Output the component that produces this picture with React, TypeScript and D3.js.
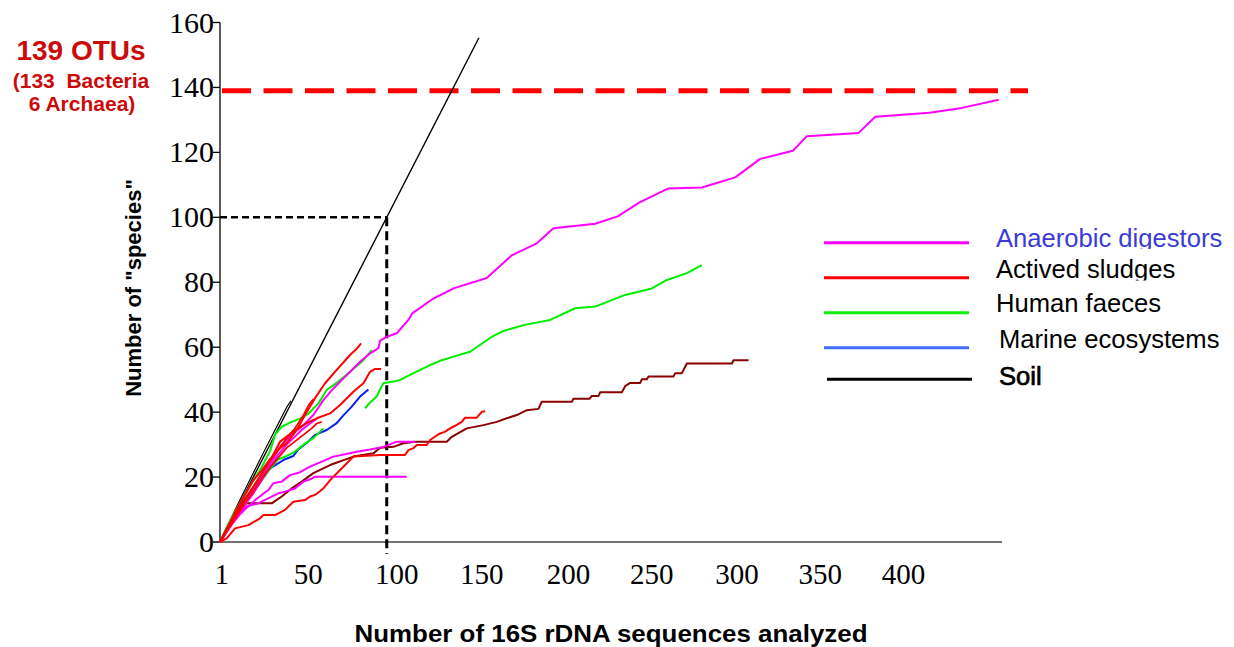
import React from "react";
import * as d3 from "d3";

type Pt = [number, number];

// ---- axis ticks ----
const yTicks = [0, 20, 40, 60, 80, 100, 120, 140, 160];
const xTickLabels = ["1", "50", "100", "150", "200", "250", "300", "350", "400"];
const xTickAt = [1, 53, 106, 157, 209, 259, 310, 360, 410];

// ---- total OTUs found ----
const totalOtus = 139;
const guideValue = 100;

// ---- Soil ----
const soilReference: Pt[] = [[0, 0], [155.3, 155.3]];
const soilSample: Pt[] = [[0, 0], [4, 4.5], [8, 8.8], [12, 13], [16, 17.2], [20, 21.3], [24, 25.4], [28, 29.5], [32, 33.5], [36, 37.5], [40, 41.5], [42.5, 43.5]];

// ---- dark red curve ----
const darkCurve: Pt[] = [[0, 0], [4, 4], [10, 9.9], [16, 11.9], [31, 11.9], [37, 14], [43, 16.5], [49, 18.6], [56, 21.2], [66, 23.7], [80, 26.3], [92, 27.3], [96, 29], [104, 29.3], [110, 30.4], [117, 30.9], [136, 30.9], [139, 32.4], [148, 35], [158, 36], [166, 37], [172, 38.1], [178, 39.1], [184, 40.6], [191, 41], [193, 43.2], [211, 43.2], [212, 44.1], [221.6, 44.1], [223, 45], [227, 45], [228, 46.1], [241, 46.1], [243, 48], [246, 49], [252, 49], [253, 50.1], [256, 50.1], [257, 51], [272, 51], [273, 52], [277, 52], [280, 55], [307, 55], [308, 56], [317, 56]];

// ---- Marine ecosystems ----
const marineA: Pt[] = [[0, 0], [7, 6], [13, 12], [19, 16], [25, 20], [31, 23], [39, 25.5], [44, 26.5], [47, 28.5], [52, 30.5], [57, 33], [64, 34.5], [70, 36.6], [74, 39], [79, 41.7], [84, 44.8], [89, 47]];

// ---- Human faeces ----
const faecesA: Pt[] = [[0, 0], [4, 4.5], [8, 8.5], [12, 12], [16, 15.5], [20, 19], [25, 23], [30, 28], [33, 33], [37, 35.5], [43, 37], [48, 38], [53, 39.5], [59, 42.7], [64, 46.8], [71, 49.4], [78, 52.4], [86, 56], [91, 59.1]];
const faecesB: Pt[] = [[0, 0], [5, 4.5], [10, 8.5], [15, 12], [20, 15.5], [25, 19], [30, 22.5], [35, 25.5], [40, 26.5], [44, 27.5], [51, 30.3], [56, 32], [60, 34], [62, 35]];
const faecesC: Pt[] = [[87, 41.2], [90, 43], [94, 44.8], [96, 47], [98, 48.9], [104, 49.4], [108, 49.9], [116, 52], [126, 54.5], [133, 56], [140, 57.1], [150, 58.6], [163, 63.2], [170, 65], [182, 66.8], [198, 68.4], [213, 72], [225, 72.5], [243, 76.1], [259, 78.1], [268, 80.7], [280, 82.8], [289, 85.3]];

// ---- Anaerobic digestors ----
const digestorA: Pt[] = [[0, 0], [5, 4], [10, 8], [15, 12], [20, 16], [25, 20], [30, 24], [36, 29.3], [44, 33.5], [50, 36], [56, 39.1], [62, 43.7], [68, 47.3], [76, 51.4], [84, 55.5], [90, 58.1], [95, 59.7], [96, 62], [100, 63.2], [106, 64.3], [113, 68.4], [115.5, 70.5], [128, 75], [140.5, 78.2], [160, 81.3], [175, 88.3], [190, 92], [200, 96.6], [225, 98], [238.5, 100.3], [251.6, 104.6], [269, 108.9], [289, 109.2], [309, 112.3], [324, 118], [343.6, 120.5], [352, 125], [383, 126], [393, 131], [425.5, 132.2], [445, 133.7], [467, 136.2]];
const digestorB: Pt[] = [[0, 0], [4, 3], [8, 6], [12, 8.5], [16, 10.5], [21, 12.9], [25, 14.5], [29, 16], [32, 18.1], [37, 18.6], [42, 20.6], [48, 21.5], [54, 23.2], [60, 24.5], [68, 26.3], [75, 27], [82, 27.8], [90, 28.5], [98, 29.3], [106, 30.9], [117, 30.9]];
const digestorC: Pt[] = [[0, 0], [4, 3.5], [8, 6.5], [12, 9], [16, 11], [23, 11.9], [27, 13], [31, 14], [35, 15], [39, 15.5], [45, 16.5], [50, 18.6], [55, 19.5], [57, 20.1], [112, 20.1]];
const digestorD: Pt[] = [[0, 0], [5, 4], [10, 8], [15, 11.5], [20, 15], [25, 19], [30, 23], [35, 27], [40, 30], [44, 32], [49, 34.5], [54, 36.5], [58, 38]];

// ---- Actived sludges ----
const sludgeA: Pt[] = [[0, 0], [4, 4], [8, 8], [12, 12], [16, 15.5], [20, 19], [25, 22], [30, 25.5], [36, 28.9], [40, 30.4], [46, 34.5], [51, 39.1], [57, 44.3], [63, 48.9], [70, 53], [78, 57.6], [82, 59.5], [84.6, 61.2]];
const sludgeB: Pt[] = [[0, 0], [4, 3.5], [8, 7], [12, 10.5], [16, 14], [20, 17], [25, 21], [30, 25], [36, 30.9], [44, 34], [52, 36.6], [58, 38.1], [66, 39.6], [72, 42.2], [80, 46.3], [86, 48.9], [90, 52.4], [93, 53.3], [96.6, 53.3]];
const sludgeC: Pt[] = [[0, 0], [5, 5], [10, 9], [15, 13], [20, 17], [25, 21], [30, 25], [35, 28.5], [40, 32], [45, 35], [50, 39], [53, 42], [56, 44]];
const sludgeD: Pt[] = [[0, 0], [5, 4], [10, 8], [15, 12], [20, 15.5], [25, 19.5], [30, 23], [35, 26], [40, 29], [45, 31], [50, 33], [55, 35], [58, 36.5], [61, 37]];
const sludgeE: Pt[] = [[0, 0], [4, 1.1], [9, 4.2], [17, 5.2], [24, 7.3], [26, 8.3], [33, 8.3], [39, 9.9], [44, 12.4], [51, 12.9], [54, 14], [57, 14.5], [62, 16.5], [67, 19.6], [74, 23.2], [80, 26.3], [88, 26.6], [96, 26.8], [111, 26.8], [113, 28.3], [116, 28.9], [118, 29.9], [124, 29.9], [126, 31.4], [128, 32.1], [131, 33.2], [135, 34], [138, 35], [141, 35.8], [145, 37], [147, 38.3], [154, 38.3], [157, 40.1], [159, 40.3]];

// ---- legend ----
const legendNames = ["Anaerobic digestors", "Actived sludges", "Human faeces", "Marine ecosystems", "Soil"];

const COLORS = {
  digestor: "#ff00ff",
  sludge: "#ff0000",
  faeces: "#00ee00",
  marine: "#0a1ef0",
  soil: "#000000",
  dark: "#8b0000",
};
const legendColors = ["#ff00ff", "#ff0000", "#11ee11", "#3f6cff", "#000000"];

const W = 1234;
const H = 647;

export default function App() {
  const x = d3.scaleLinear().domain([0, 469]).range([220, 1002]);
  const y = d3.scaleLinear().domain([0, 160]).range([542, 22.5]);

  const line = d3
    .line<Pt>()
    .x((d) => x(d[0]))
    .y((d) => y(d[1]));

  const curves: { data: Pt[]; color: string; width: number }[] = [
    { data: soilReference, color: COLORS.soil, width: 1.4 },
    { data: soilSample, color: COLORS.soil, width: 1.2 },
    { data: darkCurve, color: COLORS.dark, width: 2 },
    { data: marineA, color: COLORS.marine, width: 2 },
    { data: faecesB, color: COLORS.faeces, width: 2 },
    { data: faecesA, color: COLORS.faeces, width: 2 },
    { data: faecesC, color: COLORS.faeces, width: 2 },
    { data: digestorC, color: COLORS.digestor, width: 2 },
    { data: digestorB, color: COLORS.digestor, width: 2 },
    { data: digestorD, color: COLORS.digestor, width: 2 },
    { data: digestorA, color: COLORS.digestor, width: 2 },
    { data: sludgeE, color: COLORS.sludge, width: 2 },
    { data: sludgeD, color: COLORS.sludge, width: 1.8 },
    { data: sludgeC, color: COLORS.sludge, width: 1.8 },
    { data: sludgeB, color: COLORS.sludge, width: 2 },
    { data: sludgeA, color: COLORS.sludge, width: 2 },
  ];

  const legendY = [242.7, 277.7, 312.7, 347.7, 379.3];
  const legendTextY = [247, 278, 312, 348, 385];

  const serif = "'Liberation Serif', 'Times New Roman', serif";
  const sans = "'Liberation Sans', Arial, sans-serif";

  return (
    <svg
      width={W}
      height={H}
      viewBox={`0 0 ${W} ${H}`}
      style={{ position: "absolute", left: 0, top: 0, background: "#fff" }}
    >
      <defs>
        <clipPath id="clip-legend-0">
          <rect x={990} y={220} width={244} height={249 - 220} />
        </clipPath>
        <clipPath id="clip-legend-1">
          <rect x={990} y={255} width={244} height={280.5 - 255} />
        </clipPath>
      </defs>

      {/* OTU summary */}
      <g fill="#cc0a0a" fontFamily={sans} fontWeight="bold" textAnchor="middle">
        <text x={81} y={60} fontSize={28}>{`${totalOtus} OTUs`}</text>
        <text x={81} y={88} fontSize={21} style={{ whiteSpace: "pre" }}>{"(133  Bacteria"}</text>
        <text x={82} y={111} fontSize={21}>6 Archaea)</text>
      </g>

      {/* y axis */}
      <line x1={x(0)} x2={x(0)} y1={y(160)} y2={y(0)} stroke="#000" strokeWidth={1.3} />
      {yTicks.map((t) => (
        <g key={t}>
          <line x1={x(0) - 7} x2={x(0)} y1={y(t)} y2={y(t)} stroke="#000" strokeWidth={1.3} />
          <text
            x={x(0) - 6}
            y={y(t) + 10}
            textAnchor="end"
            fontFamily={serif}
            fontSize={30}
            fill="#000"
          >
            {t}
          </text>
        </g>
      ))}

      {/* x axis */}
      <line x1={213} x2={x(469)} y1={y(0)} y2={y(0)} stroke="#444" strokeWidth={1.3} />
      {xTickLabels.map((lab, i) => (
        <text
          key={lab}
          x={x(xTickAt[i])}
          y={584}
          textAnchor="middle"
          fontFamily={serif}
          fontSize={29}
          fill="#000"
        >
          {lab}
        </text>
      ))}

      {/* axis titles */}
      <text
        x={611}
        y={642}
        textAnchor="middle"
        fontFamily={sans}
        fontWeight="bold"
        fontSize={24}
        textLength={513}
        lengthAdjust="spacingAndGlyphs"
      >
        Number of 16S rDNA sequences analyzed
      </text>
      <text
        transform="translate(141,288) rotate(-90)"
        textAnchor="middle"
        fontFamily={sans}
        fontWeight="bold"
        fontSize={22}
      >
        Number of "species"
      </text>

      {/* total OTUs level */}
      <line
        x1={222}
        x2={1028}
        y1={y(totalOtus)}
        y2={y(totalOtus)}
        stroke="#ff0000"
        strokeWidth={5}
        strokeDasharray="29 12.5"
      />

      {/* 100 sequences / 100 species guide */}
      <line
        x1={x(0)}
        x2={x(guideValue)}
        y1={y(guideValue)}
        y2={y(guideValue)}
        stroke="#000"
        strokeWidth={2.5}
        strokeDasharray="7 4"
      />
      <line
        x1={x(guideValue)}
        x2={x(guideValue)}
        y1={y(guideValue)}
        y2={554}
        stroke="#000"
        strokeWidth={3}
        strokeDasharray="9 5"
      />

      {/* rarefaction curves */}
      <g fill="none" strokeLinejoin="round">
        {curves.map((c, i) => (
          <path key={i} d={line(c.data) ?? ""} stroke={c.color} strokeWidth={c.width} />
        ))}
      </g>

      {/* legend */}
      {legendNames.map((name, i) => (
        <g key={name}>
          <line
            x1={i === 4 ? 827 : 824}
            x2={i === 4 ? 972 : 969}
            y1={legendY[i]}
            y2={legendY[i]}
            stroke={legendColors[i]}
            strokeWidth={3}
          />
          <text
            x={i >= 3 ? 999 : 996}
            y={legendTextY[i]}
            fontFamily={sans}
            fontSize={25.6}
            fill={i === 0 ? "#3b3bd6" : "#000"}
            stroke={i === 4 ? "#000" : "none"}
            strokeWidth={i === 4 ? 0.7 : 0}
            clipPath={i < 2 ? `url(#clip-legend-${i})` : undefined}
          >
            {name}
          </text>
        </g>
      ))}
    </svg>
  );
}
